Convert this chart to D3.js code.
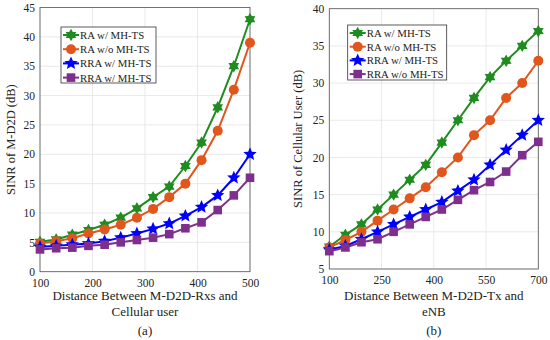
<!DOCTYPE html>
<html>
<head>
<meta charset="utf-8">
<script src="https://cdn.jsdelivr.net/npm/d3@7"></script>
<style>
body { margin: 0; background: #fff; }
text { font-family: "Liberation Serif", "Times New Roman", serif; fill: #222; }
</style>
</head>
<body>
<div id="chart"></div>
<script>
// panel (a)
var xA = [100, 130.8, 161.5, 192.3, 223.1, 253.8, 284.6, 315.4, 346.2, 376.9, 407.7, 438.5, 469.2, 500];
var raWithA = [5.1, 5.5, 6.3, 7.1, 8, 9.2, 10.8, 12.7, 14.5, 18, 22, 28, 35, 43];
var raWithoutA = [4.8, 5.2, 5.7, 6.5, 7.2, 8, 9.2, 10.7, 12.7, 15, 19, 24, 31, 39];
var rraWithA = [4.2, 4.4, 4.6, 4.8, 5.2, 5.8, 6.5, 7.3, 8.2, 9.5, 11, 13, 16, 20];
var rraWithoutA = [3.8, 4.0, 4.1, 4.4, 4.6, 5.0, 5.4, 5.8, 6.4, 7.4, 8.4, 10.5, 13, 16];
var xTicksA = [100, 200, 300, 400, 500];
var yTicksA = [0, 5, 10, 15, 20, 25, 30, 35, 40, 45];
var namesA = ["RA w/ MH-TS", "RA w/o MH-TS", "RRA w/ MH-TS", "RRA w/ MH-TS"];

// panel (b)
var xB = [100, 146.2, 192.3, 238.5, 284.6, 330.8, 376.9, 423.1, 469.2, 515.4, 561.5, 607.7, 653.8, 700];
var raWithB = [8, 9.6, 11, 13, 15, 17, 19, 22, 25, 28, 30.8, 33, 35, 37];
var raWithoutB = [7.9, 8.9, 10, 11.5, 13, 14.5, 16, 18, 20, 23, 25, 28, 30, 33];
var rraWithB = [7.6, 8.1, 9, 10, 11, 12, 13, 14, 15.5, 17, 19, 21, 23, 25];
var rraWithoutB = [7.4, 7.9, 8.6, 9, 10, 11, 12, 13, 14.3, 15.6, 16.7, 18.1, 20.3, 22.1];
var xTicksB = [100, 250, 400, 550, 700];
var yTicksB = [5, 10, 15, 20, 25, 30, 35, 40];
var namesB = ["RA w/ MH-TS", "RA w/o MH-TS", "RRA w/ MH-TS", "RRA w/o MH-TS"];

var colors = ["#1f8c1f", "#e0561c", "#0000ff", "#7e2f8e"];
var shapes = ["hexagram", "circle", "pentagram", "square"];

var svg = d3.select("#chart").append("svg")
    .attr("width", 550)
    .attr("height", 340);

function starPath(points, outer, inner) {
    var p = [];
    for (var i = 0; i < points * 2; i++) {
        var r = i % 2 == 0 ? outer : inner;
        var a = -Math.PI / 2 + i * Math.PI / points;
        p.push([r * Math.cos(a), r * Math.sin(a)]);
    }
    return "M" + p.join("L") + "Z";
}

function drawMarker(g, shape, color) {
    if (shape == "circle") {
        g.append("circle").attr("r", 5).attr("fill", color);
    } else if (shape == "square") {
        g.append("rect").attr("x", -4.3).attr("y", -4.3).attr("width", 8.6).attr("height", 8.6).attr("fill", color);
    } else if (shape == "pentagram") {
        g.append("path").attr("d", starPath(5, 7, 3.2)).attr("fill", color);
    } else {
        g.append("path").attr("d", starPath(6, 6.2, 3.6)).attr("fill", color);
    }
}

function drawPanel(opt) {
    var x = d3.scaleLinear().domain(opt.xDomain).range([opt.left, opt.right]);
    var y = d3.scaleLinear().domain(opt.yDomain).range([opt.bottom, opt.top]);
    var g = svg.append("g");

    // grid
    g.selectAll(".gx").data(opt.xTicks).enter().append("line")
        .attr("x1", function(d) { return x(d); })
        .attr("x2", function(d) { return x(d); })
        .attr("y1", opt.top).attr("y2", opt.bottom)
        .attr("stroke", "#e3e3e3").attr("stroke-width", 0.8);
    g.selectAll(".gy").data(opt.yTicks).enter().append("line")
        .attr("y1", function(d) { return y(d); })
        .attr("y2", function(d) { return y(d); })
        .attr("x1", opt.left).attr("x2", opt.right)
        .attr("stroke", "#e3e3e3").attr("stroke-width", 0.8);

    // axes
    var xAxis = g.append("g").attr("transform", "translate(0," + opt.bottom + ")")
        .call(d3.axisBottom(x).tickValues(opt.xTicks).tickSize(0).tickPadding(7));
    var yAxis = g.append("g").attr("transform", "translate(" + opt.left + ",0)")
        .call(d3.axisLeft(y).tickValues(opt.yTicks).tickSize(0).tickPadding(5));
    [xAxis, yAxis].forEach(function(a) {
        a.select(".domain").remove();
        a.selectAll("text").attr("font-family", "Liberation Serif").attr("font-size", 11.5).attr("fill", "#222");
    });
    g.append("rect")
        .attr("x", opt.left).attr("y", opt.top)
        .attr("width", opt.right - opt.left).attr("height", opt.bottom - opt.top)
        .attr("fill", "none").attr("stroke", "#555").attr("stroke-width", 0.8);

    // lines and markers
    var line = d3.line()
        .x(function(d) { return x(d[0]); })
        .y(function(d) { return y(d[1]); });
    opt.series.forEach(function(s, i) {
        var pts = opt.xs.map(function(v, j) { return [v, s[j]]; });
        g.append("path").datum(pts)
            .attr("d", line)
            .attr("fill", "none")
            .attr("stroke", colors[i])
            .attr("stroke-width", 2);
        pts.forEach(function(p) {
            var m = g.append("g").attr("transform", "translate(" + x(p[0]) + "," + y(p[1]) + ")");
            drawMarker(m, shapes[i], colors[i]);
        });
    });

    // legend
    var lg = g.append("g");
    lg.append("rect")
        .attr("x", opt.legend[0]).attr("y", opt.legend[1])
        .attr("width", opt.legend[2]).attr("height", opt.legend[3])
        .attr("fill", "#fff").attr("stroke", "#333").attr("stroke-width", 0.8);
    opt.names.forEach(function(n, i) {
        var ly = opt.legend[1] + 8 + i * opt.legendStep;
        var lx = opt.legend[0] + 2;
        lg.append("line")
            .attr("x1", lx).attr("x2", lx + 16)
            .attr("y1", ly).attr("y2", ly)
            .attr("stroke", colors[i]).attr("stroke-width", 2);
        var m = lg.append("g").attr("transform", "translate(" + (lx + 8) + "," + ly + ")");
        drawMarker(m, shapes[i], colors[i]);
        lg.append("text")
            .attr("x", lx + 17).attr("y", ly + 4)
            .attr("font-size", 10.8)
            .text(n);
    });

    // labels
    var cx = (opt.left + opt.right) / 2;
    g.append("text").attr("x", cx).attr("y", 300)
        .attr("text-anchor", "middle").attr("font-size", 13).text(opt.xLabel[0]);
    g.append("text").attr("x", cx).attr("y", 316)
        .attr("text-anchor", "middle").attr("font-size", 13).text(opt.xLabel[1]);
    g.append("text").attr("x", cx).attr("y", 335)
        .attr("text-anchor", "middle").attr("font-size", 13).text(opt.caption);
    g.append("text")
        .attr("transform", "translate(" + opt.yLabelX + "," + ((opt.top + opt.bottom) / 2) + ") rotate(-90)")
        .attr("text-anchor", "middle").attr("font-size", 12.5).text(opt.yLabel);
}

drawPanel({
    left: 40, right: 250, top: 7.5, bottom: 271.7,
    xDomain: [100, 500], yDomain: [0, 45],
    xTicks: xTicksA, yTicks: yTicksA, xs: xA,
    series: [raWithA, raWithoutA, rraWithA, rraWithoutA],
    names: namesA,
    legend: [61, 27, 95, 56], legendStep: 14.2,
    xLabel: ["Distance Between M-D2D-Rxs and", "Cellular user"],
    caption: "(a)",
    yLabel: "SINR of M-D2D (dB)", yLabelX: 15
});

drawPanel({
    left: 329.3, right: 538.3, top: 8.7, bottom: 269,
    xDomain: [100, 700], yDomain: [5, 40],
    xTicks: xTicksB, yTicks: yTicksB, xs: xB,
    series: [raWithB, raWithoutB, rraWithB, rraWithoutB],
    names: namesB,
    legend: [347.7, 25, 99, 55], legendStep: 13.7,
    xLabel: ["Distance Between M-D2D-Tx and", "eNB"],
    caption: "(b)",
    yLabel: "SINR of Cellular User (dB)", yLabelX: 302
});
</script>
</body>
</html>
